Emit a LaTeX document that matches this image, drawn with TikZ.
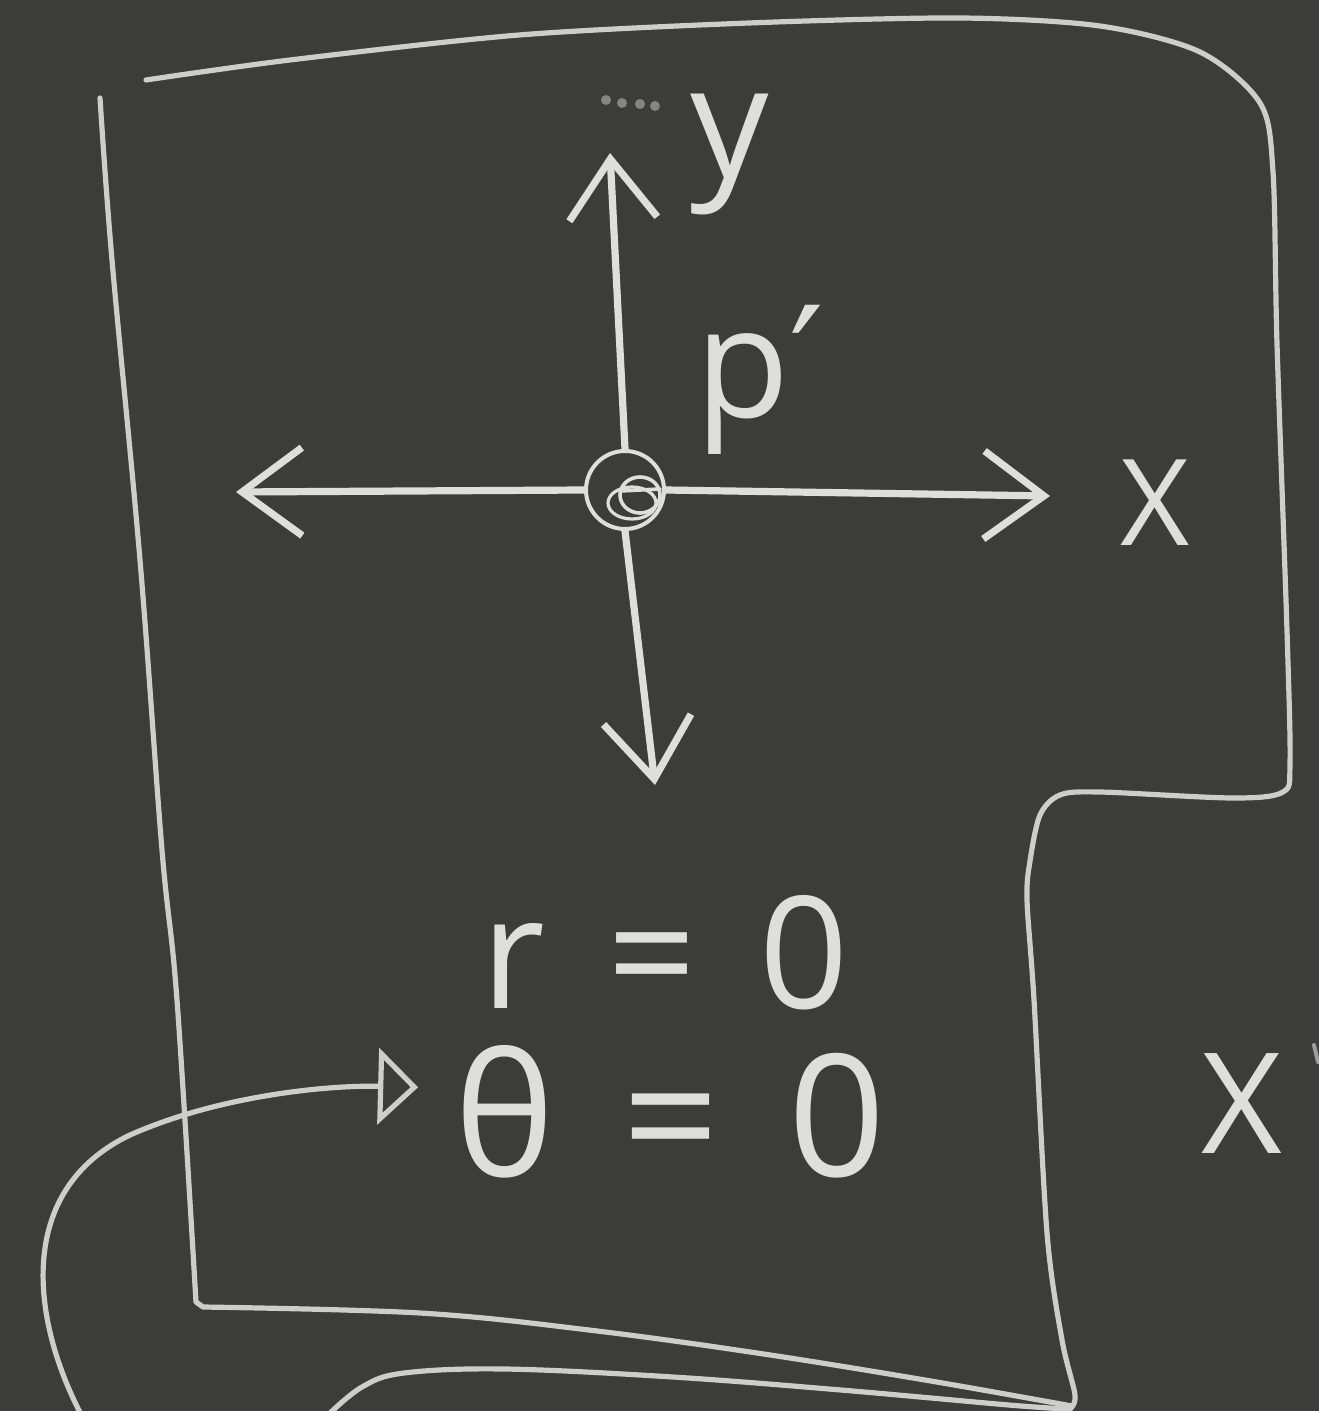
\documentclass[tikz,border=0pt]{standalone}
\usepackage{fontspec}
\setmainfont{Open Sans}
\newfontfamily\djv{DejaVu Sans}
\usetikzlibrary{arrows.meta}
\definecolor{board}{RGB}{60,60,58}
\definecolor{chalk}{RGB}{222,222,220}
\definecolor{chalkdim}{RGB}{205,205,203}
\begin{document}
\begin{tikzpicture}[x=0.5pt,y=-0.5pt,
  outline/.style={draw=chalkdim,line width=2.6pt,line cap=round,line join=round},
  axis/.style={draw=chalk,line width=3.6pt,line cap=round},
  chev/.style={-{Straight Barb[length=30pt,width=44pt]}},
  lbl/.style={text=chalk,inner sep=0pt,anchor=base},
]
\useasboundingbox (0,0) rectangle (1319,1411);
\fill[board] (0,0) rectangle (1319,1411);
\clip (0,0) rectangle (1319,1411);

% outline: left side and lower edge
\draw[outline] plot[smooth,tension=0.6] coordinates {(100,98) (112,260) (140,560) (162,850) (177,1000) (196,1302)}
  -- plot[smooth,tension=0.6] coordinates {(203,1307) (420,1313) (589,1330) (757,1353) (925,1380) (1072,1406)};
% outline: top, right and inner right side
\draw[outline] plot[smooth,tension=0.5] coordinates {(146,80) (290,60) (519,35) (749,23) (960,18) (1100,26) (1200,52) (1260,103) (1273,172) (1277,344) (1287,631) (1290,763) (1283,792) (1233,798) (1100,792) (1060,795) (1040,815) (1030,861) (1027,900) (1034,1000) (1047,1233) (1062,1340) (1075,1395) (1070,1409)};
% lower curve
\draw[outline] plot[smooth,tension=0.6] coordinates {(328,1415) (362,1387) (404,1373) (505,1369) (673,1377) (841,1390) (1009,1405) (1068,1409)};

% axes
\node[draw=chalk,circle,line width=2pt,minimum size=39pt,inner sep=0pt] (O) at (625,490) {};
\draw[chalk,line width=1.8pt] (640,495) ellipse [x radius=10pt, y radius=9pt];
\draw[chalk,line width=1.8pt,line cap=round] (620,491) -- (660,489);
\draw[chalk,line width=1.6pt] (632,503) ellipse [x radius=12pt, y radius=8pt];

\coordinate (ytip) at (610,153);
\coordinate (xtip) at (1050,496);
\coordinate (ltip) at (236,492);
\coordinate (dtip) at (655,785);
\draw[axis,chev] (O.north) -- (ytip);
\draw[axis,chev] (O.east) -- (xtip);
\draw[axis,chev] (O.west) -- (ltip);
\draw[axis,chev] (O.south) -- (dtip);

% faint dots near y
\foreach \p in {(606,100),(622,103),(640,104),(655,106)}
  \fill[chalk,opacity=0.45] \p circle[radius=2.5pt];

% labels
\node[lbl,font=\fontsize{78pt}{80pt}\selectfont] (ylab) at (730,178) {y};
\node[lbl,anchor=base west,font=\fontsize{77pt}{80pt}\selectfont] (plab) at (695,417) {p{\djv ′}};
\node[lbl,font=\fontsize{60pt}{64pt}\selectfont] (xlab) at (1155,545) {X};
\node[lbl,font=\fontsize{70pt}{74pt}\selectfont] (xlab2) at (1242,1153) {X};
\node[lbl,font=\fontsize{78pt}{80pt}\selectfont] (req) at (665,1008) {r\hspace{0.4em}=\hspace{0.4em}0};
\node[lbl,font=\fontsize{85pt}{88pt}\selectfont] (th) at (670,1176) {θ\hspace{0.4em}=\hspace{0.4em}0};

% arrow to theta
\coordinate (tail) at (84,1420);
\draw[outline,-{Triangle[open,length=20pt,width=38pt]}] (tail) .. controls (30,1320) and (15,1190) .. (130,1135) .. controls (220,1095) and (330,1085) .. ([xshift=-18pt,yshift=12pt]th.west);

% partial mark at right edge
\draw[chalk,line width=2pt,opacity=0.6,line cap=round] (1314,1045) -- (1318,1062);
\end{tikzpicture}
\end{document}
